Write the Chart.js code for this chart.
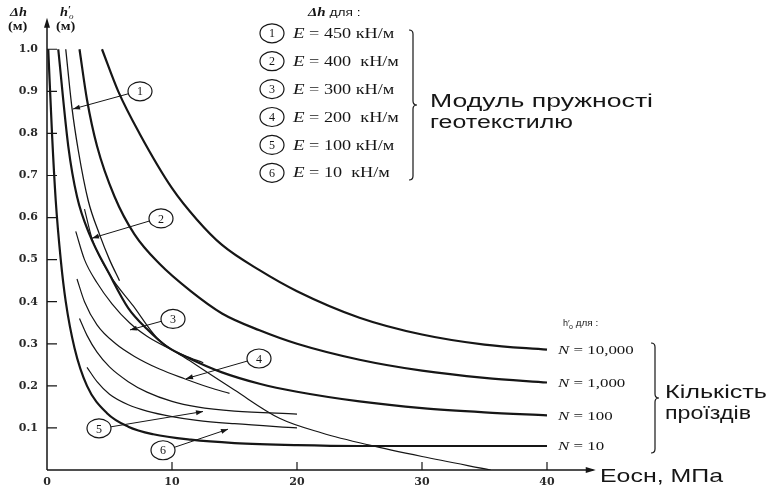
<!DOCTYPE html>
<html>
<head>
<meta charset="utf-8">
<script src="https://cdn.jsdelivr.net/npm/chart.js@4.4.1/dist/chart.umd.min.js"></script>
<style>
  html, body { margin: 0; background: #fff; }
</style>
</head>
<body>
<canvas id="myChart" width="768" height="489"></canvas>
<script>
// axis ticks: Eосн (MPa) and Δh / h'o (m)
const xTicks = [0, 10, 20, 30, 40];
const yTicks = [0.1, 0.2, 0.3, 0.4, 0.5, 0.6, 0.7, 0.8, 0.9, 1.0];

// h'o curves for number of passes N, points are [Eосн, h'o]
const nLabels = ['10,000', '1,000', '100', '10'];
const hN10000 = [[4.4, 1.0], [5.7, 0.9], [7.4, 0.8], [10, 0.67], [12, 0.595], [14, 0.535], [17, 0.475], [20, 0.425], [25, 0.362], [30, 0.322], [35, 0.298], [40, 0.286]];
const hN1000 = [[2.6, 1.0], [3.2, 0.88], [4, 0.77], [5.4, 0.65], [7, 0.56], [9, 0.49], [11.5, 0.425], [14, 0.372], [17, 0.332], [20, 0.30], [25, 0.262], [30, 0.236], [35, 0.219], [40, 0.208]];
const hN100 = [[0.9, 1.0], [1.7, 0.77], [2.4, 0.65], [3.4, 0.56], [5, 0.465], [6.5, 0.385], [8, 0.335], [9.6, 0.293], [11.4, 0.265], [14, 0.232], [17, 0.205], [20, 0.186], [25, 0.163], [30, 0.147], [35, 0.137], [40, 0.13]];
const hN10 = [[0.1, 1.0], [0.4, 0.8], [0.7, 0.64], [1.1, 0.5], [1.5, 0.4], [2.2, 0.29], [3.2, 0.2], [4.8, 0.135], [6.5, 0.103], [8.5, 0.085], [11.5, 0.072], [15, 0.064], [20, 0.059], [25, 0.057], [40, 0.057]];

// Δh curves for geotextile modulus E, points are [Eосн, Δh]
const dhNums = ['1', '2', '3', '4', '5', '6'];
const dhModuli = ['450', '400', '300', '200', '100', '10'];
const dh1 = [[1.5, 1.0], [2.0, 0.86], [2.5, 0.76], [3.3, 0.64], [4.2, 0.56], [5.0, 0.5], [5.8, 0.45]];
const dh2 = [[3.0, 0.62], [3.6, 0.55], [5, 0.465], [6.9, 0.39], [8.8, 0.314], [11.4, 0.26], [15, 0.19], [18.6, 0.123], [22, 0.088], [25.8, 0.059], [30, 0.032], [35.5, 0.0]];
const dh3 = [[2.3, 0.567], [3, 0.5], [4, 0.445], [5.2, 0.395], [6.6, 0.35], [8, 0.318], [9.5, 0.293], [11, 0.272], [12.5, 0.255]];
const dh4 = [[2.4, 0.454], [3, 0.40], [4, 0.345], [5.5, 0.30], [7, 0.27], [9, 0.24], [11, 0.217], [13, 0.196], [14.6, 0.182]];
const dh5 = [[2.6, 0.36], [3.2, 0.32], [4, 0.28], [5, 0.245], [6.5, 0.21], [8, 0.185], [10, 0.163], [12, 0.15], [15, 0.14], [20, 0.133]];
const dh6 = [[3.2, 0.244], [4, 0.21], [5, 0.18], [6.5, 0.155], [8, 0.14], [10, 0.127], [12, 0.118], [15, 0.11], [20, 0.10]];

const INK = '#161616';

function series(pts, w) {
    return {
        data: pts.map(p => ({ x: p[0], y: p[1] })),
        showLine: true,
        borderColor: INK,
        borderWidth: w,
        pointRadius: 0,
        cubicInterpolationMode: 'monotone',
        fill: false
    };
}

// text stretched horizontally to match the picture
function putText(c, txt, x, y, font, sx) {
    c.save();
    c.font = font;
    c.translate(x, y);
    c.scale(sx || 1, 1);
    c.textAlign = 'left';
    c.textBaseline = 'middle';
    c.fillText(txt, 0, 0);
    const w = c.measureText(txt).width * (sx || 1);
    c.restore();
    return w;
}

function fitText(c, txt, x, y, font, width) {
    c.save();
    c.font = font;
    const sx = width / c.measureText(txt).width;
    c.restore();
    putText(c, txt, x, y, font, sx);
}

function oval(c, x, y, txt) {
    c.beginPath();
    c.ellipse(x, y, 12, 9.5, 0, 0, Math.PI * 2);
    c.fillStyle = '#fff';
    c.fill();
    c.lineWidth = 1.2;
    c.stroke();
    c.fillStyle = INK;
    c.font = '12px "Liberation Serif"';
    c.textAlign = 'center';
    c.textBaseline = 'middle';
    c.fillText(txt, x, y + 1);
}

function arrowHead(c, x0, y0, x1, y1, len, half) {
    const a = Math.atan2(y1 - y0, x1 - x0);
    c.beginPath();
    c.moveTo(x1, y1);
    c.lineTo(x1 - len * Math.cos(a) + half * Math.sin(a), y1 - len * Math.sin(a) - half * Math.cos(a));
    c.lineTo(x1 - len * Math.cos(a) - half * Math.sin(a), y1 - len * Math.sin(a) + half * Math.cos(a));
    c.closePath();
    c.fill();
}

function brace(c, x, y1, y2, w) {
    const ym = (y1 + y2) / 2;
    c.beginPath();
    c.moveTo(x, y1);
    c.quadraticCurveTo(x + w, y1, x + w, y1 + w);
    c.lineTo(x + w, ym - w);
    c.quadraticCurveTo(x + w, ym, x + 2 * w, ym);
    c.quadraticCurveTo(x + w, ym, x + w, ym + w);
    c.lineTo(x + w, y2 - w);
    c.quadraticCurveTo(x + w, y2, x, y2);
    c.stroke();
}

// callouts: circle centre and arrow tip in chart units
const callouts = [
    { n: '1', at: [7.44, 0.90], tip: [2.08, 0.858] },
    { n: '2', at: [9.12, 0.598], tip: [3.6, 0.551] },
    { n: '3', at: [10.08, 0.359], tip: [6.64, 0.333] },
    { n: '4', at: [16.96, 0.265], tip: [11.12, 0.217] },
    { n: '5', at: [4.16, 0.099], tip: [12.48, 0.139] },
    { n: '6', at: [9.28, 0.047], tip: [14.48, 0.097] }
];

const decor = {
    id: 'decor',
    afterDraw(chart) {
        const c = chart.ctx;
        const xs = chart.scales.x, ys = chart.scales.y;
        const X = v => xs.getPixelForValue(v), Y = v => ys.getPixelForValue(v);
        c.save();
        c.strokeStyle = INK;
        c.fillStyle = INK;

        // axes with arrows
        const x0 = X(0), y0 = Y(0);
        c.lineWidth = 1.5;
        c.beginPath();
        c.moveTo(x0, y0);
        c.lineTo(x0, Y(1.06));
        c.moveTo(x0, y0);
        c.lineTo(X(43.7), y0);
        c.stroke();
        arrowHead(c, x0, y0, x0, Y(1.075), 10, 3);
        arrowHead(c, x0, y0, X(43.9), y0, 10, 3);

        // inward ticks
        c.lineWidth = 1.2;
        c.beginPath();
        yTicks.forEach(v => { c.moveTo(x0, Y(v)); c.lineTo(x0 + 10, Y(v)); });
        xTicks.slice(1).forEach(v => { c.moveTo(X(v), y0); c.lineTo(X(v), y0 - 8); });
        c.stroke();

        // axis titles
        putText(c, 'Δh', 10, 13, 'bold italic 13px "Liberation Serif"', 1.1);
        putText(c, '(м)', 8, 27, 'bold 12px "Liberation Serif"', 1.2);
        putText(c, 'h', 60, 13, 'bold italic 13px "Liberation Serif"', 1.1);
        putText(c, '′', 68, 10, 'bold 11px "Liberation Serif"', 1);
        putText(c, 'o', 69, 17, 'italic 9px "Liberation Serif"', 1);
        putText(c, '(м)', 56, 27, 'bold 12px "Liberation Serif"', 1.2);
        fitText(c, 'Eосн, МПа', 600, 477, '19px "Liberation Sans"', 123);

        // Δh legend
        const lx = 293;
        let w = putText(c, 'Δh', 308, 13, 'bold italic 13px "Liberation Serif"', 1.15);
        putText(c, ' для :', 308 + w, 13, '11px "Liberation Sans"', 1.25);
        dhNums.forEach((n, i) => {
            const ry = 33.3 + i * 27.9;
            oval(c, 272, ry, n);
            c.fillStyle = INK;
            const wE = putText(c, 'E', lx, ry + 1, 'italic 14px "Liberation Serif"', 1.35);
            const gap = (dhModuli[i] === '450' || dhModuli[i] === '300' || dhModuli[i] === '100') ? ' ' : '  ';
            putText(c, ' = ' + dhModuli[i] + gap + 'кН/м', lx + wE, ry + 1, '14px "Liberation Serif"', 1.3);
        });
        c.lineWidth = 1.2;
        brace(c, 409, 30, 180, 4);
        fitText(c, 'Модуль пружності', 430, 102, '18px "Liberation Sans"', 223);
        fitText(c, 'геотекстилю', 430, 123, '18px "Liberation Sans"', 143);

        // N legend at the curve ends
        putText(c, 'h′', 563, 324, '9px "Liberation Sans"', 1);
        putText(c, 'o', 569, 327, '7px "Liberation Sans"', 1);
        putText(c, ' для :', 573, 324, '9px "Liberation Sans"', 1.1);
        const ends = [hN10000, hN1000, hN100, hN10];
        nLabels.forEach((t, i) => {
            const last = ends[i][ends[i].length - 1];
            const ry = Y(last[1]);
            const wN = putText(c, 'N', 558, ry + 1, 'italic 13px "Liberation Serif"', 1.3);
            putText(c, ' = ' + t, 558 + wN, ry + 1, '13px "Liberation Serif"', 1.3);
        });
        c.lineWidth = 1.2;
        brace(c, 651, 343, 453, 4);
        fitText(c, 'Кількість', 665, 393, '18px "Liberation Sans"', 102);
        fitText(c, 'проїздів', 665, 414, '18px "Liberation Sans"', 86);

        // curve callouts
        callouts.forEach(k => {
            const cx = X(k.at[0]), cy = Y(k.at[1]);
            const tx = X(k.tip[0]), ty = Y(k.tip[1]);
            const a = Math.atan2(ty - cy, tx - cx);
            const sx0 = cx + 12 * Math.cos(a), sy0 = cy + 9.5 * Math.sin(a);
            c.lineWidth = 1;
            c.beginPath();
            c.moveTo(sx0, sy0);
            c.lineTo(tx, ty);
            c.stroke();
            arrowHead(c, sx0, sy0, tx, ty, 7, 2.5);
            oval(c, cx, cy, k.n);
        });
        c.restore();
    }
};

const ctx = document.getElementById('myChart').getContext('2d');
const myChart = new Chart(ctx, {
    type: 'scatter',
    data: {
        datasets: [
            series(hN10000, 2.2),
            series(hN1000, 2.2),
            series(hN100, 2.2),
            series(hN10, 2.2),
            series(dh1, 1.3),
            series(dh2, 1.2),
            series(dh3, 1.2),
            series(dh4, 1.2),
            series(dh5, 1.2),
            series(dh6, 1.2)
        ]
    },
    options: {
        responsive: false,
        animation: false,
        devicePixelRatio: 1,
        layout: { padding: { top: 13, right: 171, bottom: 0, left: 0 } },
        plugins: { legend: { display: false }, tooltip: { enabled: false } },
        scales: {
            x: {
                type: 'linear',
                min: 0,
                max: 44,
                afterFit: s => { s.height = 19; },
                grid: { display: false, drawTicks: false },
                border: { display: false },
                ticks: {
                    stepSize: 10,
                    padding: 6,
                    color: '#2a2a2a',
                    font: { family: 'DejaVu Serif', size: 11, weight: 'bold' },
                    callback: v => xTicks.includes(v) ? String(v) : null
                }
            },
            y: {
                type: 'linear',
                min: 0,
                max: 1.08,
                afterFit: s => { s.width = 47; },
                grid: { display: false, drawTicks: false },
                border: { display: false },
                ticks: {
                    stepSize: 0.1,
                    padding: 9,
                    color: '#2a2a2a',
                    font: { family: 'DejaVu Serif', size: 11, weight: 'bold' },
                    callback: v => (v > 0.05 && v < 1.05) ? v.toFixed(1) : null
                }
            }
        }
    },
    plugins: [decor]
});
</script>
</body>
</html>
